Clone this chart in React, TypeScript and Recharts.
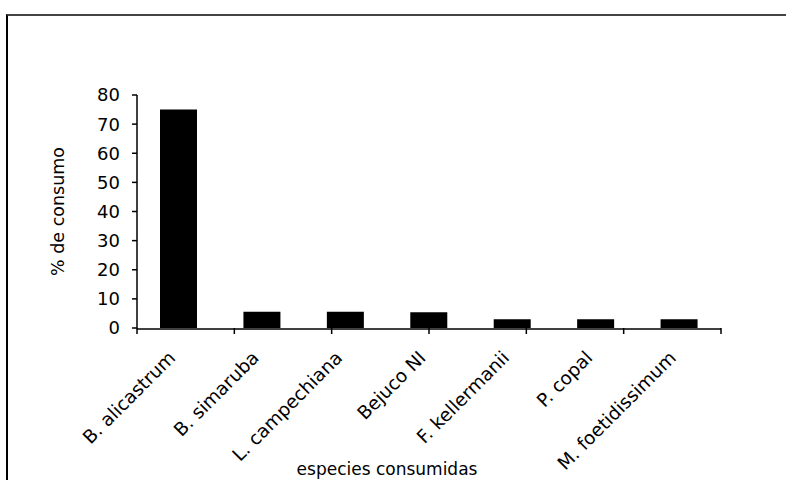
import React from 'react';
import { BarChart, Bar, XAxis, YAxis } from 'recharts';

const species = [
  'B. alicastrum',
  'B. simaruba',
  'L. campechiana',
  'Bejuco NI',
  'F. kellermanii',
  'P. copal',
  'M. foetidissimum',
];
const consumo = [75, 5.6, 5.6, 5.4, 3.0, 3.0, 3.0];
const yTicks = [0, 10, 20, 30, 40, 50, 60, 70, 80];
const boundaryTicks = [0, 1, 2, 3, 4, 5, 6, 7];

const data = species.map((name, i) => ({ name, value: consumo[i] }));

const FONT = '"DejaVu Sans", Verdana, sans-serif';

const RotTick = (props: any) => {
  const { x, y, payload } = props;
  return (
    <text
      x={x}
      y={y}
      transform={`rotate(-45 ${x} ${y})`}
      textAnchor="end"
      fontFamily={FONT}
      fontSize={18.5}
      fill="#000"
      dy={14}
      dx={-17}
    >
      {payload.value}
    </text>
  );
};

const EmptyTick = () => <g />;

export default function App() {
  return (
    <div style={{ position: 'absolute', left: 0, top: 0, width: 786, height: 480, background: '#fff', overflow: 'hidden' }}>
      <div
        style={{
          position: 'absolute',
          left: 6,
          top: 14,
          width: 820,
          height: 520,
          borderLeft: '2px solid #000',
          borderTop: '2px solid #444',
        }}
      />
      <BarChart
        width={786}
        height={480}
        data={data}
        margin={{ top: 95, right: 65, bottom: 0, left: 50 }}
        barSize={37}
        style={{ position: 'absolute', left: 0, top: 0 }}
      >
        <XAxis
          xAxisId={0}
          type="number"
          domain={[0, 7]}
          ticks={boundaryTicks}
          interval={0}
          allowDataOverflow
          height={1}
          tick={<EmptyTick />}
          axisLine={false}
          tickLine={{ stroke: '#000', strokeWidth: 1.5 }}
          tickSize={6}
        />
        <XAxis
          xAxisId="cat"
          dataKey="name"
          interval={0}
          height={151}
          axisLine={{ stroke: '#000', strokeWidth: 1.5 }}
          tickLine={false}
          tickSize={6}
          tick={<RotTick />}
          label={{
            value: 'especies consumidas',
            position: 'insideBottom',
            offset: 5,
            dx: -42,
            fontFamily: FONT,
            fontSize: 17,
            fill: '#000',
          }}
        />
        <YAxis
          domain={[0, 80]}
          ticks={yTicks}
          interval={0}
          width={87}
          axisLine={{ stroke: '#000', strokeWidth: 1.5 }}
          tickLine={{ stroke: '#000', strokeWidth: 1.5 }}
          tickSize={5}
          tickMargin={12}
          tick={{ fontFamily: FONT, fontSize: 18, fill: '#000' }}
          label={{
            value: '% de consumo',
            angle: -90,
            position: 'insideLeft',
            offset: 8,
            style: { textAnchor: 'middle' },
            fontFamily: FONT,
            fontSize: 17.5,
            fill: '#000',
          }}
        />
        <Bar xAxisId="cat" dataKey="value" fill="#000" isAnimationActive={false} />
      </BarChart>
    </div>
  );
}
